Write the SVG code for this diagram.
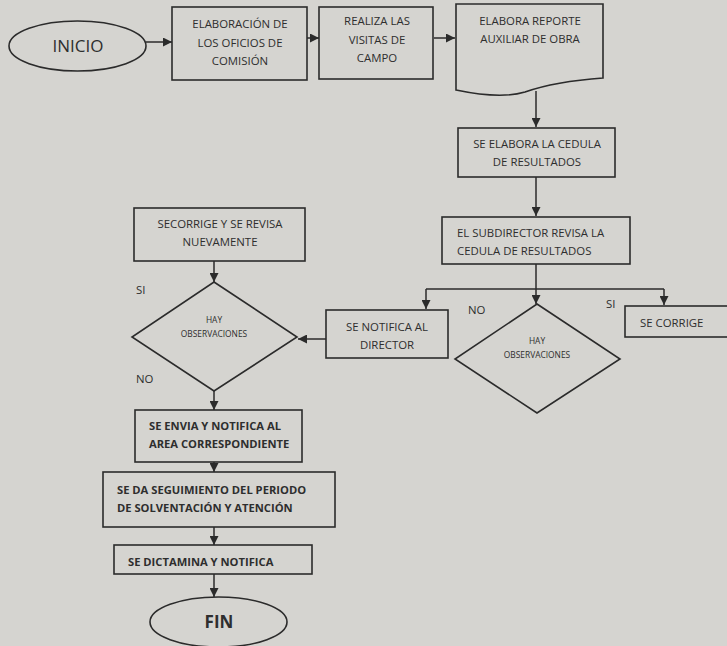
<svg xmlns="http://www.w3.org/2000/svg" width="727" height="646" viewBox="0 0 727 646">
<defs>
<marker id="ah" viewBox="0 0 10 10" refX="10" refY="5" markerWidth="9" markerHeight="9" markerUnits="userSpaceOnUse" orient="auto">
<path d="M0,0 L10,5 L0,10 Z" fill="#2b2b2b"/>
</marker>
<style>
.s{fill:none;stroke:#2b2b2b;stroke-width:1.6}
.c{fill:none;stroke:#2b2b2b;stroke-width:1.5;marker-end:url(#ah)}
.l{fill:none;stroke:#2b2b2b;stroke-width:1.5}
text{font-family:"Open Sans","Liberation Sans",sans-serif;fill:#2e2e2e;font-size:11.4px}
.m{text-anchor:middle}
.b{font-weight:bold;font-size:11.2px}
.sm{font-size:8.4px}
.big{font-size:17px}
</style>
</defs>
<rect width="727" height="646" fill="#d5d4d0"/>
<g id="connectors">
<line class="c" x1="146" y1="42" x2="172" y2="42"/>
<line class="c" x1="307" y1="38" x2="319" y2="38"/>
<line class="c" x1="434" y1="38" x2="455" y2="38"/>
<line class="c" x1="536" y1="91" x2="536" y2="127"/>
<line class="c" x1="536" y1="177" x2="536" y2="216"/>
<line class="l" x1="536" y1="264" x2="536" y2="289"/>
<line class="l" x1="426" y1="289" x2="664" y2="289"/>
<line class="c" x1="426" y1="289" x2="426" y2="309"/>
<line class="c" x1="536" y1="289" x2="536" y2="304"/>
<line class="c" x1="664" y1="289" x2="664" y2="305"/>
<line class="c" x1="326" y1="339" x2="298" y2="339"/>
<line class="c" x1="214" y1="261" x2="214" y2="282"/>
<line class="c" x1="214" y1="391" x2="214" y2="410"/>
<line class="c" x1="214" y1="462" x2="214" y2="472"/>
<line class="c" x1="214" y1="527" x2="214" y2="545"/>
<line class="c" x1="214" y1="574" x2="214" y2="597"/>
<text x="468" y="314">NO</text>
<text x="606" y="308">SI</text>
<text x="136" y="294">SI</text>
<text x="136" y="383">NO</text>
</g>
<g id="inicio">
<ellipse class="s" cx="77.5" cy="46" rx="68.5" ry="25"/>
<text class="m big" x="78" y="52">INICIO</text>
</g>
<g id="oficios">
<rect class="s" x="172" y="7" width="135" height="73"/>
<text class="m" x="240" y="28">ELABORACIÓN DE</text>
<text class="m" x="240" y="47">LOS OFICIOS DE</text>
<text class="m" x="240" y="65">COMISIÓN</text>
</g>
<g id="visitas">
<rect class="s" x="319" y="7" width="114" height="72"/>
<text class="m" x="377" y="25">REALIZA LAS</text>
<text class="m" x="377" y="44">VISITAS DE</text>
<text class="m" x="377" y="62">CAMPO</text>
</g>
<g id="reporte">
<path class="s" d="M456,4 H603 V78 C575,80 545,85 525,92 C505,98 480,95 456,90 Z"/>
<text class="m" x="530" y="25">ELABORA REPORTE</text>
<text class="m" x="530" y="43">AUXILIAR DE OBRA</text>
</g>
<g id="cedula">
<rect class="s" x="458" y="128" width="157" height="49"/>
<text class="m" x="537" y="148">SE ELABORA LA CEDULA</text>
<text class="m" x="537" y="166">DE RESULTADOS</text>
</g>
<g id="subdirector">
<rect class="s" x="442" y="217" width="188" height="47"/>
<text x="457" y="237">EL SUBDIRECTOR REVISA LA</text>
<text x="457" y="255">CEDULA DE RESULTADOS</text>
</g>
<g id="notifica-director">
<rect class="s" x="326" y="310" width="122" height="48"/>
<text class="m" x="387" y="331">SE NOTIFICA AL</text>
<text class="m" x="387" y="349">DIRECTOR</text>
</g>
<g id="decision-right">
<path class="s" d="M537,304 L620,359 L537,413 L455,359 Z"/>
<text class="m sm" x="537" y="344">HAY</text>
<text class="m sm" x="537" y="358">OBSERVACIONES</text>
</g>
<g id="se-corrige">
<rect class="s" x="625" y="306" width="112" height="31"/>
<text x="640" y="327">SE CORRIGE</text>
</g>
<g id="corrige-revisa">
<rect class="s" x="134" y="208" width="171" height="53"/>
<text class="m" x="220" y="228">SECORRIGE Y SE REVISA</text>
<text class="m" x="220" y="246">NUEVAMENTE</text>
</g>
<g id="decision-left">
<path class="s" d="M214,282 L297,337 L214,391 L132,337 Z"/>
<text class="m sm" x="214" y="323">HAY</text>
<text class="m sm" x="214" y="337">OBSERVACIONES</text>
</g>
<g id="envia">
<rect class="s" x="135" y="410" width="167" height="52"/>
<text class="b" x="149" y="430">SE ENVIA Y NOTIFICA AL</text>
<text class="b" x="149" y="448">AREA CORRESPONDIENTE</text>
</g>
<g id="seguimiento">
<rect class="s" x="103" y="472" width="232" height="55"/>
<text class="b" x="117" y="494">SE DA SEGUIMIENTO DEL PERIODO</text>
<text class="b" x="117" y="512">DE SOLVENTACIÓN Y ATENCIÓN</text>
</g>
<g id="dictamina">
<rect class="s" x="114" y="545" width="198" height="29"/>
<text class="b" x="128" y="566">SE DICTAMINA Y NOTIFICA</text>
</g>
<g id="fin">
<ellipse class="s" cx="218.5" cy="622" rx="68.5" ry="25"/>
<text class="m big b" x="219" y="628" style="font-size:17px">FIN</text>
</g>
</svg>
